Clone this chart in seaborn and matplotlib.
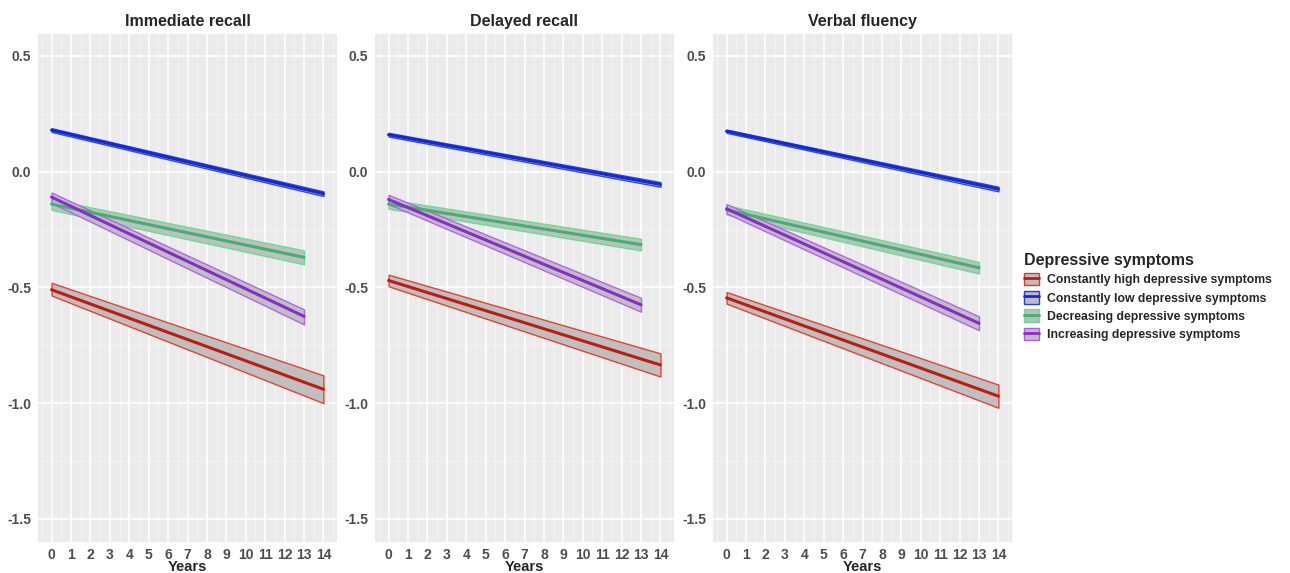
import pandas as pd
import numpy as np
import matplotlib.pyplot as plt
import seaborn as sns
from matplotlib.patches import Patch
from matplotlib.lines import Line2D

panels = ['Immediate recall', 'Delayed recall', 'Verbal fluency']
groups = ['Constantly high depressive symptoms', 'Constantly low depressive symptoms',
          'Decreasing depressive symptoms', 'Increasing depressive symptoms']
last_year = [14, 14, 13, 13]

# fitted value at year 0 and at the last year, per panel (rows) and group (cols)
start_fit = [[-0.51, 0.18, -0.14, -0.11],
             [-0.47, 0.16, -0.14, -0.12],
             [-0.545, 0.175, -0.165, -0.16]]
end_fit = [[-0.94, -0.095, -0.37, -0.625],
           [-0.835, -0.055, -0.315, -0.575],
           [-0.97, -0.075, -0.415, -0.655]]
start_lo = [[-0.535, 0.172, -0.165, -0.135],
            [-0.495, 0.152, -0.16, -0.14],
            [-0.57, 0.168, -0.185, -0.18]]
start_hi = [[-0.48, 0.188, -0.12, -0.09],
            [-0.445, 0.168, -0.12, -0.10],
            [-0.52, 0.182, -0.145, -0.14]]
end_lo = [[-1.0, -0.105, -0.40, -0.66],
          [-0.885, -0.065, -0.34, -0.605],
          [-1.02, -0.085, -0.44, -0.685]]
end_hi = [[-0.88, -0.085, -0.34, -0.595],
          [-0.785, -0.045, -0.29, -0.545],
          [-0.92, -0.065, -0.39, -0.625]]

line_colors = ['#C21A0E', '#1428D8', '#3DB36E', '#8A2BD0']
edge_colors = ['#E8382A', '#2340E8', '#5EE08E', '#B45CF0']

rows = []
for p, panel in enumerate(panels):
    for g, grp in enumerate(groups):
        rows.append([panel, grp, 0, start_fit[p][g], start_lo[p][g], start_hi[p][g]])
        rows.append([panel, grp, last_year[g], end_fit[p][g], end_lo[p][g], end_hi[p][g]])
df = pd.DataFrame(rows, columns=['panel', 'group', 'year', 'fit', 'lo', 'hi'])

sns.set_style('darkgrid', {'axes.facecolor': '#EBEBEB', 'grid.color': 'white'})
plt.rcParams['font.family'] = ['Liberation Sans', 'DejaVu Sans']

fig = plt.figure(figsize=(12.9, 5.73), dpi=100)
lefts = [38, 375, 713]
for p, panel in enumerate(panels):
    ax = fig.add_axes([lefts[p] / 1290, 1 - 542 / 573, 299 / 1290, 508 / 573])
    sub = df[df['panel'] == panel]
    for g, grp in enumerate(groups):
        d = sub[sub['group'] == grp]
        ax.fill_between(d['year'], d['lo'], d['hi'], facecolor='#BDBDBD', alpha=0.95,
                        edgecolor=edge_colors[g], linewidth=1.0, zorder=2)
    sns.lineplot(data=sub, x='year', y='fit', hue='group', palette=line_colors,
                 hue_order=groups, linewidth=2.2, ax=ax, legend=False, zorder=3)
    ax.set_xlim(-0.7, 14.7)
    ax.set_ylim(-1.6, 0.595)
    ax.set_xticks(range(15))
    ax.set_xticks(np.arange(-0.5, 15, 1), minor=True)
    ax.set_yticks([0.5, 0.0, -0.5, -1.0, -1.5])
    ax.set_yticklabels(['0.5', '0.0', '-0.5', '-1.0', '-1.5'])
    ax.set_yticks([0.25, -0.25, -0.75, -1.25], minor=True)
    ax.grid(which='major', color='white', linewidth=1.1)
    ax.grid(which='minor', color='#F5F5F5', linewidth=0.6)
    ax.tick_params(axis='both', which='major', length=3, color='#333333',
                   labelsize=10, labelcolor='#4D4D4D', pad=2)
    ax.tick_params(axis='x', which='major', pad=1)
    ax.tick_params(axis='both', which='minor', length=0)
    for lab in ax.get_xticklabels() + ax.get_yticklabels():
        lab.set_fontweight('bold')
    for s in ax.spines.values():
        s.set_visible(False)
    ax.set_xlabel('Years', fontsize=10.5, fontweight='bold', labelpad=-1)
    ax.set_ylabel('')
    ax.set_title(panel, fontsize=11.5, fontweight='bold', pad=6)

handles = []
for g in range(4):
    handles.append((Patch(facecolor='#BDBDBD', edgecolor=edge_colors[g], linewidth=1.0),
                    Line2D([], [], color=line_colors[g], linewidth=2)))
leg = fig.legend(handles, groups, title='Depressive symptoms', loc='upper left',
                 bbox_to_anchor=(1013 / 1290, 1 - 242 / 573), frameon=False,
                 prop={'weight': 'bold', 'size': 8.8}, handlelength=1.2, handleheight=1.2,
                 handletextpad=0.7, labelspacing=0.4, alignment='left')
leg.get_title().set_fontweight('bold')
leg.get_title().set_fontsize(11.5)

fig.savefig('out.png', dpi=100)
